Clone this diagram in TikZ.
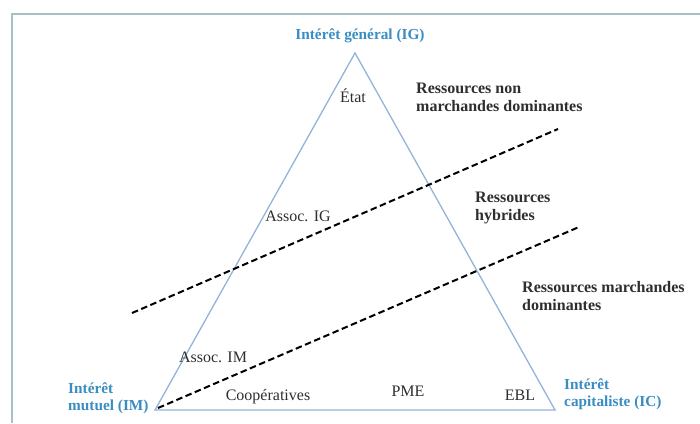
\documentclass[tikz,border=0pt]{standalone}
\usepackage{fontspec}
\setmainfont{Liberation Serif}
\usetikzlibrary{positioning}
\definecolor{poleblue}{HTML}{3A8DC2}
\definecolor{sideblue}{HTML}{93B3D8}
\definecolor{framegray}{HTML}{A6C0C4}
\definecolor{textgray}{HTML}{2E2E2E}

\begin{document}
\begin{tikzpicture}[x=1pt,y=-1pt]
\tikzstyle{pole}=[font=\fontsize{15.3}{17.5}\selectfont\bfseries, text=poleblue, align=left, inner sep=0pt]
\tikzstyle{zone}=[font=\fontsize{16}{18}\selectfont\bfseries, text=textgray, align=left, anchor=west, inner sep=0pt]
\tikzstyle{org}=[font=\fontsize{16}{18}\selectfont, text=textgray, inner sep=0pt]
\tikzstyle{side}=[draw=sideblue, line width=1.3pt]
\tikzstyle{limit}=[line width=2pt, dash pattern=on 6.5pt off 3.5pt]
\useasboundingbox (0,0) rectangle (700,423);
\draw[framegray, line width=2pt] (12,423) -- (12,14) -- (700,14);
% triangle
\coordinate (IG) at (355,53);
\coordinate (IM) at (155,410);
\coordinate (IC) at (555,410);
\draw[side] (IG) -- (IM) -- (IC) -- cycle;
% dashed limits
\coordinate (up1) at (132,313);
\coordinate (up2) at (558,129);
\coordinate (lo1) at (158,408);
\coordinate (lo2) at (579,227);
\draw[limit] (up1) -- (up2);
\draw[limit] (lo1) -- (lo2);
% poles
\node[pole] (tIG) at (360,36) {Intérêt général (IG)};
\node[pole, anchor=west] (tIM) at (68,398) {Intérêt\\mutuel (IM)};
\node[pole, anchor=west] (tIC) at (564,394) {Intérêt\\capitaliste (IC)};
% ressources
\node[zone] (rnm) at (416,97) {Ressources non\\marchandes dominantes};
\node[zone] (rhy) at (475,208) {Ressources\\hybrides};
\node[zone] (rma) at (522,296) {Ressources marchandes\\dominantes};
% organisations
\node[org] (etat) at (353,96) {État};
\node[org] (aig) at (298,216) {Assoc. IG};
\node[org] (aim) at (213,357) {Assoc. IM};
\node[org] (coop) at (268,397) {Coopératives};
\node[org] (pme) at (408,391) {PME};
\node[org] (ebl) at (520,395) {EBL};
\end{tikzpicture}
\end{document}
